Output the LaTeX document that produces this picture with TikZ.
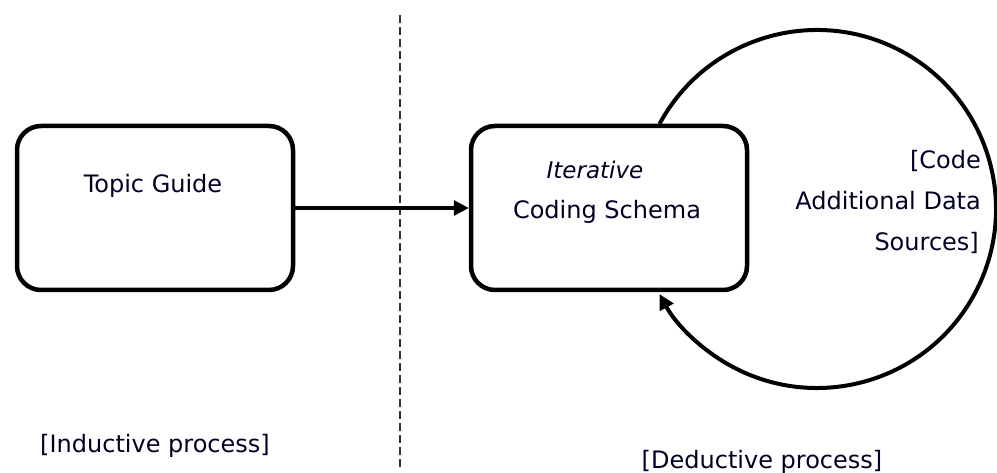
\documentclass[tikz,border=0pt]{standalone}
\usepackage{fontspec}
\setmainfont{DejaVu Sans}
\usetikzlibrary{arrows.meta}
\tikzset{
  box/.style={draw, line width=4.5pt, rounded corners=24pt, minimum width=276pt, minimum height=164pt},
  lbl/.style={font=\fontsize{24}{28}\selectfont, text=black!85!blue, inner sep=0pt},
  tip/.style={-{Triangle[length=15pt,width=15pt]}},
  conn/.style={line width=3.5pt, tip},
  divider/.style={line width=1.3pt, dash pattern=on 8pt off 4pt, black!80}
}
\begin{document}
\begin{tikzpicture}[x=1pt,y=1pt]
\useasboundingbox (0,0) rectangle (997,473);
\node[box] (tg) at (155,265) {};
\node[box] (cs) at (609,265) {};
\node[lbl] (tgt) at (153,287) {Topic Guide};
\node[lbl, font=\fontsize{23}{28}\selectfont\itshape] (it) at (595,303) {Iterative};
\node[lbl] (cst) at (607,261) {Coding Schema};
\coordinate (cc) at (817,264);
\coordinate (dtop) at (400,458);
\coordinate (dbot) at (400,3);
\draw[divider] (dtop) -- (dbot);
\draw[conn] (tg.east) -- (cs.west);
\draw[line width=4pt, tip]
  ([shift={(151.6:179)}]cc) arc[start angle=151.6, end angle=-151.6, radius=179];
\node[lbl, anchor=base east] (code1) at (981,304) {[Code};
\node[lbl, anchor=base east] (code2) at (981,263) {Additional Data};
\node[lbl, anchor=base east] (code3) at (979,222) {Sources]};
\node[lbl] (ind) at (155,27) {[Inductive process]};
\node[lbl] (ded) at (762,11) {[Deductive process]};
\end{tikzpicture}
\end{document}
